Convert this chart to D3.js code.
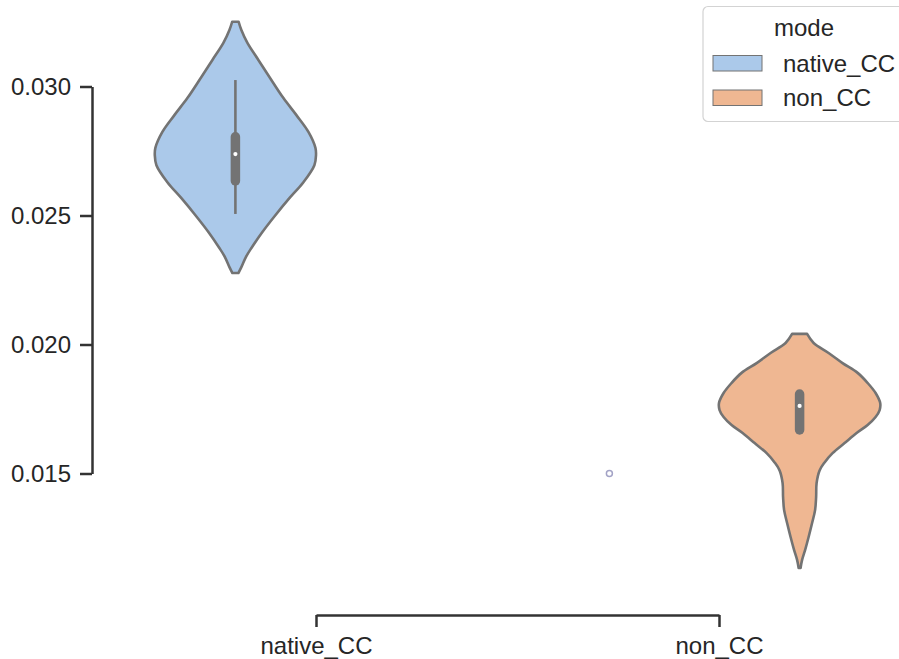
<!DOCTYPE html>
<html>
<head>
<meta charset="utf-8">
<script src="https://cdn.jsdelivr.net/npm/d3@7"></script>
<style>
  html, body { margin: 0; padding: 0; background: #ffffff; }
  svg { display: block; }
  text { font-family: "Liberation Sans", Arial, "DejaVu Sans", sans-serif; fill: #262626; }
</style>
</head>
<body>
<svg id="chart" width="899" height="659"></svg>
<script>
// ---- data ----
const categories = ["native_CC", "non_CC"];
const hues = ["native_CC", "non_CC"];
const hueColors = ["#abc9ea", "#efb792"];
const yTicks = [0.015, 0.020, 0.025, 0.030];

// violin outline: value along y, relative density (half-width, 1 = full)
const nativeValues  = [0.03251, 0.03219, 0.03169, 0.03103, 0.03037, 0.02955, 0.02889, 0.02824, 0.02762, 0.02734, 0.02695, 0.02629, 0.02567, 0.02501, 0.02436, 0.02374, 0.02339, 0.02300, 0.02277];
const nativeDensity = [0.040, 0.074, 0.149, 0.285, 0.422, 0.596, 0.757, 0.906, 0.993, 1.000, 0.980, 0.844, 0.670, 0.496, 0.335, 0.199, 0.130, 0.074, 0.037];

const nonValues  = [0.02041, 0.02006, 0.01967, 0.01928, 0.01890, 0.01851, 0.01812, 0.01773, 0.01746, 0.01719, 0.01688, 0.01657, 0.01618, 0.01579, 0.01543, 0.01512, 0.01463, 0.01409, 0.01358, 0.01308, 0.01254, 0.01203, 0.01165, 0.01134];
const nonDensity = [0.093, 0.174, 0.360, 0.533, 0.720, 0.844, 0.943, 1.000, 0.993, 0.943, 0.844, 0.707, 0.558, 0.409, 0.310, 0.248, 0.211, 0.205, 0.192, 0.155, 0.112, 0.068, 0.031, 0.012];

// inner box stats: [whiskerLow, whiskerHigh], [q1, q3], median
const nativeWhisker = [0.02506, 0.03025];
const nativeBox     = [0.02634, 0.02805];
const nativeMedian  = 0.02738;
const nonWhisker = [0.01670, 0.01800];
const nonBox     = [0.01669, 0.01808];
const nonMedian  = 0.01762;

// stray marker (category position units, value)
const strayPointCat = [0.728];
const strayPointVal = [0.0150];

// ---- build ----
const violins = [
  { cat: "native_CC", hue: "native_CC", values: nativeValues, density: nativeDensity, whisker: nativeWhisker, box: nativeBox, median: nativeMedian },
  { cat: "non_CC",    hue: "non_CC",    values: nonValues,    density: nonDensity,    whisker: nonWhisker,    box: nonBox,    median: nonMedian }
];

const svg = d3.select("#chart");
const edgeGray = "#737373";
const axisColor = "#333333";

const x = d3.scalePoint().domain(categories).range([316, 719]);
const step = x(categories[1]) - x(categories[0]);
const hueBand = d3.scaleBand().domain(hues).range([-0.4 * step, 0.4 * step]).padding(0);
const color = d3.scaleOrdinal().domain(hues).range(hueColors);
const xLin = d3.scaleLinear().domain([0, 1]).range([x(categories[0]), x(categories[1])]);
const y = d3.scaleLinear().domain([0.015, 0.030]).range([473.5, 86.5]);

const halfMax = hueBand.bandwidth() / 2;

// violins
violins.forEach(v => {
  const cx = x(v.cat) + hueBand(v.hue) + hueBand.bandwidth() / 2;
  const pts = v.values.map((val, i) => ({ val, d: v.density[i] }));
  const area = d3.area()
    .y(p => y(p.val))
    .x0(p => cx - p.d * halfMax)
    .x1(p => cx + p.d * halfMax)
    .curve(d3.curveCatmullRom.alpha(0.5));
  svg.append("path")
    .attr("d", area(pts))
    .attr("fill", color(v.hue))
    .attr("stroke", edgeGray)
    .attr("stroke-width", 2.6)
    .attr("stroke-linejoin", "round");

  // whisker
  svg.append("line")
    .attr("x1", cx).attr("x2", cx)
    .attr("y1", y(v.whisker[0])).attr("y2", y(v.whisker[1]))
    .attr("stroke", edgeGray).attr("stroke-width", 2.6);
  // box
  svg.append("line")
    .attr("x1", cx).attr("x2", cx)
    .attr("y1", y(v.box[0])).attr("y2", y(v.box[1]))
    .attr("stroke", edgeGray).attr("stroke-width", 9.5)
    .attr("stroke-linecap", "round");
  // median
  svg.append("circle")
    .attr("cx", cx).attr("cy", y(v.median)).attr("r", 2.1)
    .attr("fill", "#ffffff");
});

// stray point
svg.selectAll("circle.stray")
  .data(strayPointCat.map((c, i) => ({ c, v: strayPointVal[i] })))
  .enter().append("circle")
  .attr("class", "stray")
  .attr("cx", d => xLin(d.c)).attr("cy", d => y(d.v)).attr("r", 3)
  .attr("fill", "#ffffff").attr("stroke", "#a3a3c6").attr("stroke-width", 1.5);

// y axis
const yAxis = d3.axisLeft(y).tickValues(yTicks).tickFormat(d3.format(".3f"))
  .tickSizeInner(12).tickSizeOuter(0).tickPadding(9);
const gy = svg.append("g").attr("transform", "translate(92,0)").call(yAxis);
gy.select(".domain").attr("stroke", axisColor).attr("stroke-width", 2.5);
gy.selectAll(".tick line").attr("stroke", axisColor).attr("stroke-width", 2.5);
gy.selectAll(".tick text").attr("font-size", 24).attr("fill", "#262626")
  .style("font-family", '"Liberation Sans", Arial, sans-serif');

// x axis
const xAxis = d3.axisBottom(x).tickSizeInner(12).tickSizeOuter(0).tickPadding(10);
const gx = svg.append("g").attr("transform", "translate(0,615)").call(xAxis);
gx.select(".domain").attr("stroke", axisColor).attr("stroke-width", 2.5);
gx.selectAll(".tick line").attr("stroke", axisColor).attr("stroke-width", 2.5);
gx.selectAll(".tick text").attr("font-size", 24).attr("fill", "#262626")
  .style("font-family", '"Liberation Sans", Arial, sans-serif');

// legend
const lg = svg.append("g");
lg.append("rect")
  .attr("x", 703).attr("y", 6.5).attr("width", 215).attr("height", 115)
  .attr("rx", 5).attr("ry", 5)
  .attr("fill", "#ffffff").attr("fill-opacity", 0.85)
  .attr("stroke", "#d3d3d3").attr("stroke-width", 1.2);
lg.append("text")
  .attr("x", 804).attr("y", 36).attr("text-anchor", "middle")
  .attr("font-size", 24).text("mode");
const items = lg.selectAll("g.item").data(hues).enter().append("g")
  .attr("class", "item")
  .attr("transform", (d, i) => `translate(0,${i * 34.5})`);
items.append("rect")
  .attr("x", 713).attr("y", 55.5).attr("width", 49).attr("height", 15.5)
  .attr("fill", d => color(d)).attr("stroke", edgeGray).attr("stroke-width", 1);
items.append("text")
  .attr("x", 783).attr("y", 71.5).attr("font-size", 24)
  .text(d => d);
</script>
</body>
</html>
